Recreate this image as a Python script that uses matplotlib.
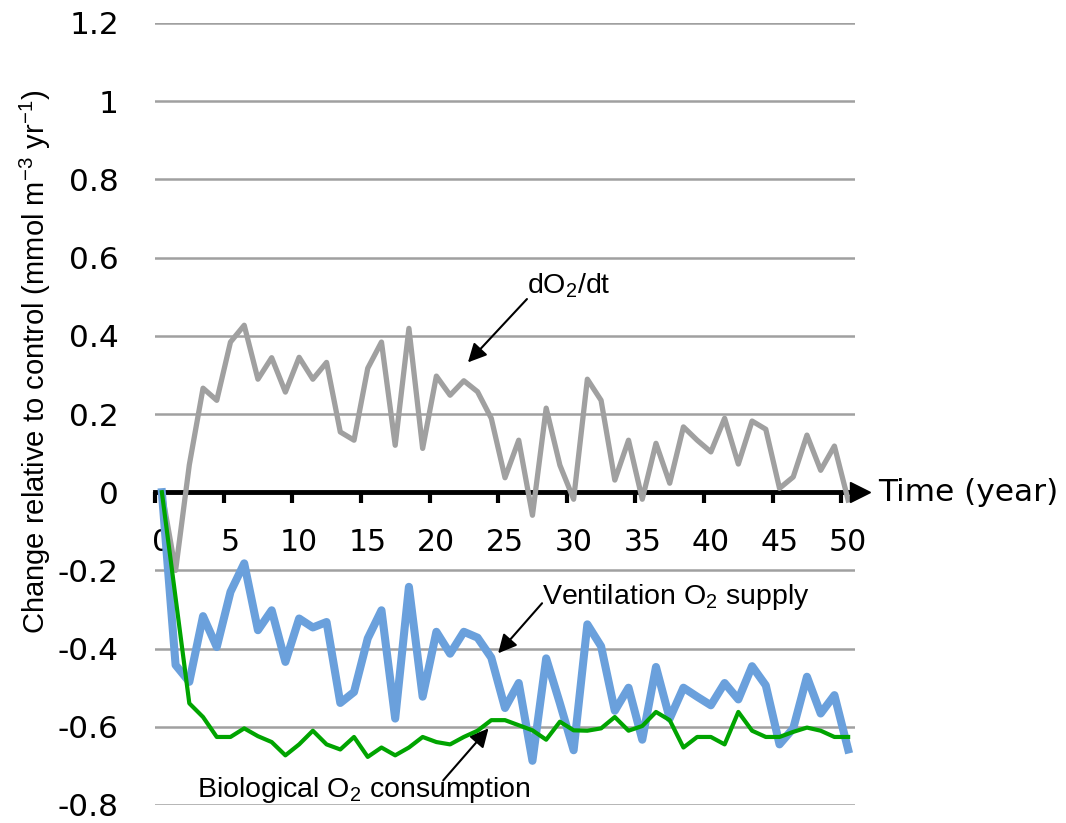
import matplotlib
matplotlib.use("Agg")
import matplotlib.pyplot as plt

years = list(range(0, 51))

# dO2/dt (grey)
do2dt = [0.0, -0.2, 0.07, 0.266, 0.235, 0.384, 0.427, 0.289, 0.344, 0.256,
         0.345, 0.289, 0.332, 0.154, 0.133, 0.317, 0.384, 0.12, 0.419, 0.112,
         0.297, 0.248, 0.285, 0.257, 0.189, 0.037, 0.133, -0.059, 0.215, 0.069,
         -0.018, 0.289, 0.235, 0.031, 0.133, -0.018, 0.125, 0.023, 0.167, 0.133,
         0.103, 0.189, 0.072, 0.182, 0.161, 0.01, 0.039, 0.146, 0.056, 0.118,
         -0.02]

# Ventilation O2 supply (blue)
ventilation = [0.0, -0.442, -0.485, -0.317, -0.396, -0.255, -0.182, -0.353, -0.302, -0.434,
               -0.323, -0.346, -0.332, -0.539, -0.511, -0.374, -0.302, -0.579, -0.242, -0.523,
               -0.357, -0.413, -0.357, -0.372, -0.423, -0.552, -0.488, -0.687, -0.425, -0.54,
               -0.66, -0.338, -0.394, -0.559, -0.5, -0.633, -0.447, -0.579, -0.5, -0.523,
               -0.545, -0.488, -0.53, -0.445, -0.494, -0.645, -0.604, -0.472, -0.566, -0.519,
               -0.658]

# Biological O2 consumption (green)
biological = [0.0, -0.27, -0.54, -0.575, -0.626, -0.626, -0.604, -0.624, -0.639, -0.673,
              -0.645, -0.61, -0.645, -0.658, -0.626, -0.677, -0.653, -0.673, -0.653, -0.626,
              -0.639, -0.645, -0.626, -0.61, -0.583, -0.583, -0.596, -0.609, -0.633, -0.587,
              -0.609, -0.61, -0.604, -0.575, -0.61, -0.598, -0.562, -0.583, -0.653, -0.626,
              -0.626, -0.645, -0.562, -0.61, -0.626, -0.626, -0.613, -0.602, -0.61, -0.626,
              -0.626]

x_labels = [0, 5, 10, 15, 20, 25, 30, 35, 40, 45, 50]
y_ticks = [-0.8, -0.6, -0.4, -0.2, 0, 0.2, 0.4, 0.6, 0.8, 1.0, 1.2]
y_labels = ["-0.8", "-0.6", "-0.4", "-0.2", "0", "0.2", "0.4", "0.6", "0.8", "1", "1.2"]

plt.rcParams["mathtext.default"] = "regular"

fig = plt.figure(figsize=(10.66, 8.23), dpi=100)
ax = fig.add_axes([155 / 1066, 18 / 823, 700 / 1066, 782 / 823])

ax.plot(years, do2dt, color="#a0a0a0", lw=3.8, zorder=3, solid_joinstyle="round")
ax.plot(years, ventilation, color="#6aa0dc", lw=5.8, zorder=4, solid_joinstyle="round")
ax.plot(years, biological, color="#00a400", lw=3.0, zorder=5, solid_joinstyle="round")

ax.set_xlim(-0.5, 50.5)
ax.set_ylim(-0.8, 1.2)

for sp in ["left", "right", "top"]:
    ax.spines[sp].set_visible(False)
ax.spines["bottom"].set_position(("data", 0))
ax.spines["bottom"].set_linewidth(3.5)
ax.spines["bottom"].set_zorder(2.5)

ax.set_yticks(y_ticks)
ax.set_yticklabels(y_labels, fontsize=22.5, family="DejaVu Sans")
ax.tick_params(axis="y", length=0, pad=26)
ax.yaxis.grid(True, color="#a0a0a0", lw=1.8)
ax.set_axisbelow(True)

ax.set_xticks(x_labels)
ax.set_xticklabels([str(v) for v in x_labels], fontsize=21.5, family="DejaVu Sans")
ax.tick_params(axis="x", which="major", length=0, pad=26)
ax.set_xticks([v - 0.5 for v in x_labels], minor=True)
ax.tick_params(axis="x", which="minor", length=8, width=3, direction="out", color="black")

# arrow head at the end of the time axis
ax.plot([50.9], [0], marker=">", markersize=14, color="black", clip_on=False, zorder=6)
ax.text(52.2, 0, "Time (year)", fontsize=22.5, family="DejaVu Sans", va="center", ha="left")

fig.text(35 / 1066, 1 - 362 / 823, r"Change relative to control (mmol m$^{-3}$ yr$^{-1}$)",
         rotation=90, va="center", ha="center", fontsize=21,
         family=["Liberation Sans Narrow", "Liberation Sans"])

lab_font = dict(fontsize=20.5, family="Liberation Sans", va="center", ha="left")
ax.text(26.6, 0.529, r"dO$_2$/dt", **lab_font)
ax.text(27.7, -0.269, r"Ventilation O$_2$ supply", **lab_font)
ax.text(2.55, -0.762, r"Biological O$_2$ consumption", **lab_font)

arr = dict(arrowstyle="-|>", color="black", lw=1.5, mutation_scale=28, shrinkA=0, shrinkB=0)
ax.annotate("", xy=(22.3, 0.332), xytext=(26.6, 0.494), arrowprops=arr)
ax.annotate("", xy=(24.5, -0.412), xytext=(27.7, -0.284), arrowprops=arr)
ax.annotate("", xy=(23.8, -0.604), xytext=(20.5, -0.737), arrowprops=arr)

fig.savefig("out.png", dpi=100)
